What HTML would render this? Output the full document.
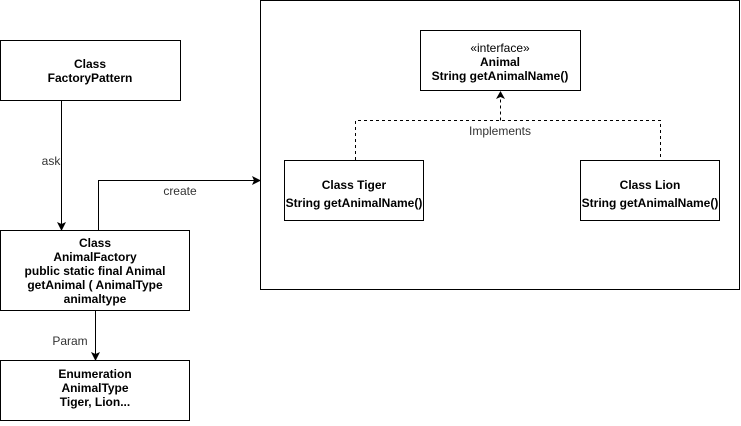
<!DOCTYPE html>
<html><head><style>body{margin:0;background:#fff}</style></head><body>
<svg width="741" height="421" xmlns="http://www.w3.org/2000/svg" font-family="Liberation Sans, Arial, sans-serif" font-size="12">
<rect width="741" height="421" fill="#fff"/>
<g fill="none" stroke="#000" stroke-width="1">
<rect x="0.5" y="40.5" width="180" height="60"/>
<rect x="0.5" y="230.5" width="189" height="80"/>
<rect x="0.5" y="360.5" width="189" height="60"/>
<rect x="260.5" y="0.5" width="479" height="289"/>
<rect x="420.5" y="30.5" width="160" height="60"/>
<rect x="284.5" y="160.5" width="139" height="60"/>
<rect x="580.5" y="160.5" width="139" height="60"/>
<path d="M61.5 101V224"/>
<path d="M98.5 230V180.5H254"/>
<path d="M95.5 311V354"/>
<path d="M355.5 160V120.5H660.5V160M500.5 120.5V97" stroke-dasharray="3 3"/>
</g>
<g fill="#000">
<path d="M57 222L61.5 231L66 222L61.5 224Z"/>
<path d="M91 352L95.5 361L100 352L95.5 354Z"/>
<path d="M252 176L261 180.5L252 185L254 180.5Z"/>
<path d="M496 99L500.5 91L505 99L500.5 97Z"/>
</g>
<g text-anchor="middle" font-weight="bold" fill="#000">
<text x="90" y="68">Class</text><text x="90" y="82">FactoryPattern</text>
<text x="95" y="247">Class</text><text x="95" y="261">AnimalFactory</text><text x="95" y="275">public static final Animal</text><text x="95" y="289">getAnimal ( AnimalType</text><text x="95" y="303">animaltype</text>
<text x="95" y="378">Enumeration</text><text x="95" y="392">AnimalType</text><text x="95" y="406">Tiger, Lion...</text>
<text x="500" y="52" font-weight="normal">«interface»</text><text x="500" y="66">Animal</text><text x="500" y="80">String getAnimalName()</text>
<text x="354" y="189">Class Tiger</text><text x="354" y="207">String getAnimalName()</text>
<text x="650" y="189">Class Lion</text><text x="650" y="207">String getAnimalName()</text>
</g>
<g text-anchor="middle" fill="#333" font-size="12">
<rect x="39" y="153" width="22" height="14" fill="#fff"/>
<text x="51" y="165">ask</text>
<text x="180" y="195">create</text>
<text x="70" y="345">Param</text>
<text x="500" y="135">Implements</text>
</g>
</svg>
</body></html>
